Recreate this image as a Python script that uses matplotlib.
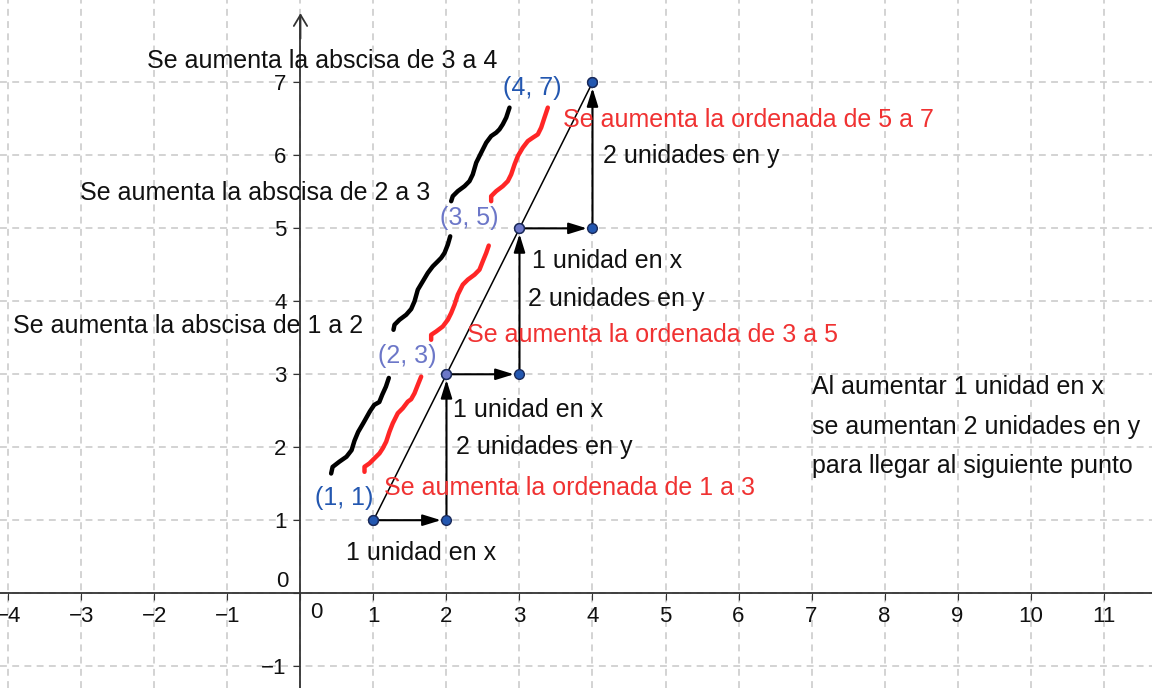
import matplotlib.pyplot as plt

plt.rcParams['font.family'] = ['Liberation Sans', 'DejaVu Sans']

# ejes
x_ticks = list(range(-4, 12))
y_ticks = list(range(-1, 8))
x_lim = (-4.116, 11.664)
y_lim = (-1.30, 8.13)

# puntos de la recta y = 2x - 1
main_x = [1, 2, 3, 4]
main_y = [1, 3, 5, 7]
main_lbl = ['(1, 1)', '(2, 3)', '(3, 5)', '(4, 7)']
main_col = ['#2357b0', '#6c77c8', '#6c77c8', '#2357b0']

# escalones (1 en x, 2 en y)
step_x = [1, 2, 2, 3, 3, 4, 4]
step_y = [1, 1, 3, 3, 5, 5, 7]

# trazos a mano alzada (negro = abscisa, rojo = ordenada)
blk1_x = [0.42, 0.44, 0.53, 0.63, 0.70, 0.74, 0.79, 0.86, 0.95, 1.01, 1.08, 1.12, 1.17, 1.21]
blk1_y = [1.64, 1.73, 1.80, 1.87, 1.96, 2.09, 2.21, 2.33, 2.49, 2.58, 2.62, 2.72, 2.83, 2.95]
blk2_x = [1.274, 1.288, 1.356, 1.448, 1.516, 1.562, 1.607, 1.675, 1.744, 1.812, 1.881, 1.927, 1.973, 2.018, 2.051]
blk2_y = [3.610, 3.679, 3.747, 3.816, 3.894, 3.999, 4.159, 4.273, 4.389, 4.479, 4.548, 4.595, 4.663, 4.777, 4.891]
blk3_x = [2.064, 2.086, 2.155, 2.247, 2.315, 2.360, 2.407, 2.475, 2.544, 2.612, 2.681, 2.726, 2.771, 2.818, 2.863]
blk3_y = [5.372, 5.441, 5.510, 5.578, 5.647, 5.739, 5.900, 6.037, 6.174, 6.265, 6.312, 6.357, 6.426, 6.518, 6.655]
red1_x = [0.877, 0.877, 0.945, 1.014, 1.082, 1.127, 1.174, 1.219, 1.264, 1.333, 1.401, 1.470, 1.516, 1.562, 1.607, 1.653]
red1_y = [1.663, 1.732, 1.779, 1.848, 1.916, 1.985, 2.076, 2.213, 2.328, 2.466, 2.534, 2.625, 2.658, 2.740, 2.854, 2.968]
red2_x = [1.790, 1.790, 1.859, 1.949, 2.018, 2.064, 2.110, 2.155, 2.223, 2.292, 2.384, 2.452, 2.497, 2.544, 2.579]
red2_y = [3.473, 3.541, 3.587, 3.655, 3.747, 3.839, 3.953, 4.091, 4.228, 4.297, 4.365, 4.434, 4.548, 4.663, 4.764]
red3_x = [2.612, 2.612, 2.681, 2.771, 2.840, 2.886, 2.932, 2.977, 3.045, 3.114, 3.182, 3.251, 3.297, 3.342, 3.388]
red3_y = [5.372, 5.441, 5.510, 5.578, 5.647, 5.739, 5.876, 5.990, 6.106, 6.196, 6.243, 6.288, 6.381, 6.518, 6.655]

# textos: (x, y, texto)
black_txt = [
    (-2.103, 7.196, 'Se aumenta la abscisa de 3 a 4'),
    (-3.021, 5.388, 'Se aumenta la abscisa de 2 a 3'),
    (-3.938, 3.566, 'Se aumenta la abscisa de 1 a 2'),
    (4.144, 5.895, '2 unidades en y'),
    (3.171, 4.456, '1 unidad en x'),
    (3.116, 3.936, '2 unidades en y'),
    (2.089, 2.415, '1 unidad en x'),
    (2.130, 1.908, '2 unidades en y'),
    (0.623, 0.456, '1 unidad en x'),
    (7.007, 2.730, 'Al aumentar 1 unidad en x'),
    (7.007, 2.182, 'se aumentan 2 unidades en y'),
    (7.007, 1.648, 'para llegar al siguiente punto'),
]
red_txt = [
    (3.596, 6.388, 'Se aumenta la ordenada de 5 a 7'),
    (2.281, 3.442, 'Se aumenta la ordenada de 3 a 5'),
    (1.150, 1.347, 'Se aumenta la ordenada de 1 a 3'),
]
lbl_pos = [(0.199, 1.21), (1.062, 3.155), (1.911, 5.045), (2.774, 6.826)]

RED = '#f03232'
fig = plt.figure(figsize=(11.52, 6.88), dpi=100)
ax = fig.add_axes([0, 0, 1, 1])
ax.set_xlim(*x_lim)
ax.set_ylim(*y_lim)

# cuadricula
ax.set_xticks(x_ticks)
ax.set_yticks(y_ticks)
ax.grid(True, color='#c8c8c8', lw=1.1, ls=(0, (4.5, 3.5)))
ax.set_axisbelow(True)
ax.spines['top'].set_visible(False)
ax.spines['right'].set_visible(False)
ax.spines['left'].set_position(('data', 0))
ax.spines['bottom'].set_position(('data', 0))
ax.spines['left'].set_bounds(y_lim[0], 7.9)
for s in ['left', 'bottom']:
    ax.spines[s].set_color('#333333')
    ax.spines[s].set_linewidth(1.3)
ax.tick_params(direction='out', length=5, color='#333333', labelsize=16, labelcolor='#111111')
ax.tick_params(axis='x', pad=4)
ax.tick_params(axis='y', pad=5)
ax.set_xticklabels(['' if v == 0 else str(v).replace('-', '\u2212') for v in x_ticks])
ax.set_yticklabels(['' if v == 0 else str(v).replace('-', '\u2212') for v in y_ticks])
ax.text(0.21, -0.12, '0', fontsize=16, ha='center', va='top', color='#111111')
ax.text(-0.17, 0.16, '0', fontsize=16, ha='right', va='center', color='#111111')
ax.annotate('', xy=(0, 7.95), xytext=(0, 7.6),
            arrowprops=dict(arrowstyle='->,head_length=0.5,head_width=0.3', color='#333333',
                            lw=1.3, mutation_scale=16, shrinkA=0, shrinkB=0))

# recta
ax.plot([main_x[0], main_x[-1]], [main_y[0], main_y[-1]], color='black', lw=1.1, zorder=3)

# flechas de los escalones
for i in range(len(step_x) - 1):
    ax.annotate('', xy=(step_x[i + 1], step_y[i + 1]), xytext=(step_x[i], step_y[i]),
                arrowprops=dict(arrowstyle='-|>,head_length=0.55,head_width=0.17', color='black',
                                lw=1.5, mutation_scale=20, shrinkA=0, shrinkB=4), zorder=4)

# trazos
for xs, ys in [(blk1_x, blk1_y), (blk2_x, blk2_y), (blk3_x, blk3_y)]:
    ax.plot(xs, ys, color='black', lw=3.2, solid_capstyle='round', solid_joinstyle='round', zorder=3)
for xs, ys in [(red1_x, red1_y), (red2_x, red2_y), (red3_x, red3_y)]:
    ax.plot(xs, ys, color='#ff2626', lw=3.2, solid_capstyle='round', solid_joinstyle='round', zorder=3)

# puntos
ax.plot(step_x, step_y, 'o', ms=7, color='#2357b0', mec='#1a2a5a', mew=1, ls='none', zorder=5)
for x, y, c in zip(main_x, main_y, main_col):
    ax.plot(x, y, 'o', ms=7, color=c, mec='#1a2a5a', mew=1, zorder=6)
for (x, y), t, c in zip(lbl_pos, main_lbl, main_col):
    ax.text(x, y, t, fontsize=18, color=c, ha='left', va='baseline', zorder=7)

for x, y, t in black_txt:
    ax.text(x, y, t, fontsize=18, color='#111111', ha='left', va='baseline', zorder=7)
for x, y, t in red_txt:
    ax.text(x, y, t, fontsize=18, color=RED, ha='left', va='baseline', zorder=7)

fig.savefig('out.png', dpi=100)
